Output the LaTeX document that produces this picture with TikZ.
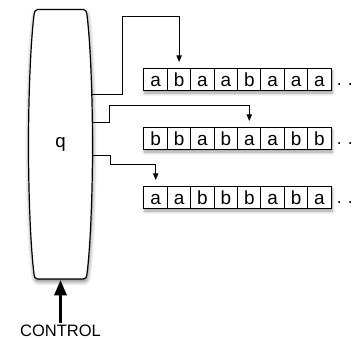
\documentclass[tikz,border=0pt]{standalone}
\usepackage{fontspec}
\setmainfont{Liberation Sans}
\usetikzlibrary{arrows.meta,shadows.blur}
\begin{document}
\begin{tikzpicture}[x=0.75pt,y=-0.75pt,
  softshadow/.style={blur shadow={shadow xshift=0.6pt,shadow yshift=-1.6pt,
      shadow blur radius=2.4pt,shadow blur steps=8,shadow opacity=40}},
  tape/.style={draw=black,line width=0.75pt,fill=white,inner sep=0pt,
      minimum width=187.2*0.75pt,minimum height=16.8pt,softshadow},
  cell/.style={draw=black,line width=0.75pt,inner sep=0pt,
      minimum width=17.55pt,minimum height=16.8pt,
      font=\fontsize{14.2}{14.2}\selectfont,text height=9.8pt,text depth=0pt},
  dots/.style={anchor=base west,inner sep=0pt,font=\fontsize{13}{13}\selectfont},
  conn/.style={draw=black,line width=0.7pt,shorten >=4.5pt,
      -{Triangle[width=4pt,length=5pt]}},
  bigarrow/.style={draw=black,line width=2.4pt,
      -{Triangle[width=9pt,length=11.5pt]}}
]
\useasboundingbox (0,0) rectangle (355,339);

% the controller body: a tall barrel with flat top and bottom
\path[draw=black,line width=0.9pt,fill=white,
      blur shadow={shadow xshift=0.4pt,shadow yshift=-2pt,
        shadow blur radius=3pt,shadow blur steps=8,shadow opacity=50}]
  (37.5,9.5) -- (83.5,9.5)
  .. controls (86,9.5) and (86.6,12) .. (87.1,16)
  .. controls (90,40) and (92.5,90) .. (92.5,145)
  .. controls (92.5,200) and (90,250) .. (87.1,273)
  .. controls (86.6,277) and (86,279) .. (83.5,279)
  -- (37.5,279)
  .. controls (35,279) and (34.4,277) .. (33.9,273)
  .. controls (31,250) and (28.5,200) .. (28.5,145)
  .. controls (28.5,90) and (31,40) .. (33.9,16)
  .. controls (34.4,12) and (35,9.5) .. (37.5,9.5) -- cycle;
\node[anchor=base,inner sep=0pt,font=\fontsize{14}{14}\selectfont] (q) at (60.5,148) {q};

% ports on the right side of the body and the bottom input point
\coordinate (o1) at (92.2,94.3);
\coordinate (o2) at (92.4,122.3);
\coordinate (o3) at (92.5,155.7);
\coordinate (bbot) at (60.5,280);

% three tapes
\foreach \row/\ytop/\word in {1/68.5/{a,b,a,a,b,a,a,a},
                              2/127.5/{b,b,a,b,a,a,b,b},
                              3/186.5/{a,a,b,b,b,a,b,a}} {
  \node[tape] (t\row) at (237.6,\ytop+11.2) {};
  \foreach \s [count=\i] in \word {
    \node[cell] (t\row c\i) at (144+23.4*\i-11.7,\ytop+11.2) {\s};
  }
  \node[dots] (d\row) at (336.5,\ytop+17.5) {. .};
}

% heads: connectors from the body to the tapes
\draw[conn] (o1) -| (122,16) -| (t1c2.north);
\draw[conn] (o2) -| (109.3,105.7) -| (t2c5.north);
\draw[conn] (o3) -| (110.7,164.3) -| (t3c1.north);

% control input
\node[anchor=base,inner sep=2pt,font=\fontsize{12.4}{12.4}\selectfont] (ctl) at (60.5,337) {CONTROL};
\draw[bigarrow] (ctl.north) -- (bbot);
\end{tikzpicture}
\end{document}
